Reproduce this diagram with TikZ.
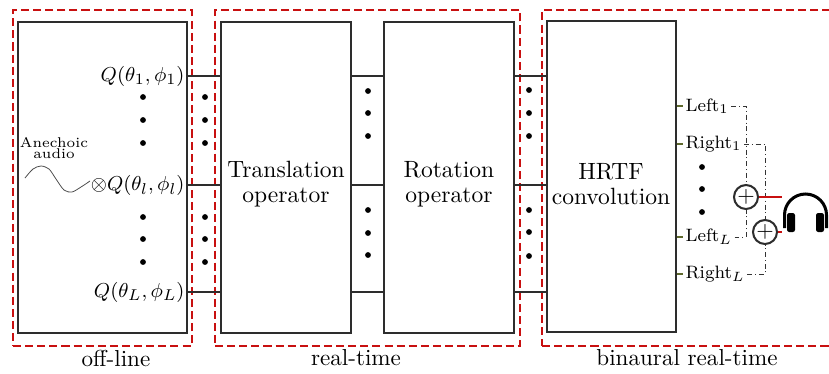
\documentclass[tikz,border=0pt]{standalone}
\usetikzlibrary{fit}
\definecolor{dred}{RGB}{200,16,16}
\definecolor{boxc}{RGB}{45,45,45}
\definecolor{tickc}{RGB}{95,105,45}
\begin{document}
\begin{tikzpicture}[x=0.446pt,y=-0.446pt,
 blk/.style={draw=boxc, line width=0.65pt, inner sep=0pt},
 grp/.style={draw=dred, dash pattern=on 3.6pt off 1.8pt, line width=0.7pt, inner sep=0pt},
 lab/.style={font=\fontsize{10.5}{11}\selectfont, align=center},
 qlab/.style={anchor=east, inner sep=0pt, font=\fontsize{9.3}{11}\selectfont},
 outlab/.style={anchor=west, inner sep=1pt, font=\fontsize{8}{9}\selectfont},
 tickl/.style={draw=tickc, line width=0.6pt},
 dd/.style={draw=black!80, line width=0.35pt, dash pattern=on 2.2pt off 1.3pt on 0.4pt off 1.3pt},
 sumnode/.style={circle, draw=boxc, line width=0.9pt, minimum size=10.7pt, inner sep=0pt, font=\fontsize{10}{12}\selectfont},
 redl/.style={draw=dred, line width=0.65pt},
 bot/.style={font=\fontsize{10.3}{12}\selectfont}
]
\useasboundingbox (0,0) rectangle (829,373);
\fill[white] (0,0) rectangle (829,373);

% dashed groups
\node[grp, fit={(13,10) (192,346)}] (gOff) {};
\node[grp, fit={(215,10) (520,346)}] (gRT) {};
\node[grp, fit={(542,10) (845,346)}] (gBin) {};

% blocks
\node[blk, fit={(18,22) (187,333)}] (off) {};
\node[blk, fit={(221,22) (351,333)}] (tr) {};
\node[blk, fit={(384,22) (514,333)}] (rot) {};
\node[blk, fit={(547,21) (676,332)}] (hrtf) {};

% Q labels
\node[qlab] (q1) at (185,76) {$Q(\theta_1,\phi_1)$};
\node[qlab] (ql) at (185,185) {$\otimes Q(\theta_l,\phi_l)$};
\node[qlab] (qL) at (185,292) {$Q(\theta_L,\phi_L)$};

% connectors
\foreach \q in {q1,ql,qL} {
  \draw[blk] (off.east |- \q) -- (tr.west |- \q);
  \draw[blk] (tr.east |- \q) -- (rot.west |- \q);
  \draw[blk] (rot.east |- \q) -- (hrtf.west |- \q);
}

% dots
\foreach \y in {97,120,143,217,239,262} {
  \fill (143,\y) circle (1.3pt);
  \fill (205,\y) circle (1.3pt);
}
\foreach \y in {91,113,136,210,233,255} {\fill (368,\y) circle (1.3pt);}
\foreach \y in {90,113,136,210,232,256} {\fill (529,\y) circle (1.3pt);}
\foreach \y in {167,189,212} {\fill (702,\y) circle (1.3pt);}

% block texts
\node[lab] (trt) at (286,184) {Translation\\operator};
\node[lab] (rott) at (449,184) {Rotation\\operator};
\node[lab] (hrtft) at (611,184) {HRTF\\convolution};

% anechoic audio
\node[font=\fontsize{6.3}{7}\selectfont, align=center, inner sep=0pt] (an) at (54,148) {Anechoic\\[-1.8pt]audio};
\draw[line width=0.35pt, black!70] plot[smooth] coordinates {(25,178) (33,169) (41,166) (49,169) (56,179) (64,190) (72,192) (81,187) (90,181)};

% output labels
\node[outlab] (l1) at (683,106) {Left$_1$};
\node[outlab] (r1) at (683,144) {Right$_1$};
\node[outlab] (lL) at (683,237) {Left$_L$};
\node[outlab] (rL) at (683,274) {Right$_L$};
\foreach \o in {l1,r1,lL,rL} {\draw[tickl] (hrtf.east |- \o) -- (\o.west);}

% summing nodes
\node[sumnode] (p1) at (746,197) {$+$};
\node[sumnode] (p2) at (765,232) {$+$};

\draw[dd] (l1.east) -| (p1.north);
\draw[dd] (lL.east) -| (p1.south);
\draw[dd] (r1.east) -| (p2.north);
\draw[dd] (rL.east) -| (p2.south);

% to headphones
\coordinate (hp1) at (782,197);
\coordinate (hp2) at (782,232);
\draw[redl] (p1.east) -- (hp1);
\draw[redl] (p2.east) -- (hp2);

% headphones icon
\draw[line width=1.35pt] (784.5,228) -- (784.5,215) arc[start angle=180, end angle=360, radius=21] -- (826.5,228);
\fill[rounded corners=1pt] (787,213) rectangle (795,232);
\fill[rounded corners=1pt] (816,213) rectangle (824,232);

% bottom labels
\node[bot] (tOff) at (116,358) {off-line};
\node[bot] (tRT) at (356,358) {real-time};
\node[bot] (tBin) at (687,358) {binaural real-time};
\end{tikzpicture}
\end{document}
